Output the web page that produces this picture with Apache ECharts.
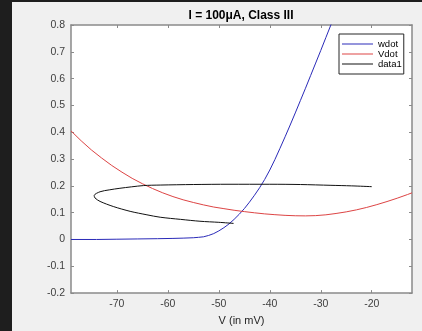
<!DOCTYPE html>
<html>
<head>
<meta charset="utf-8">
<script src="https://cdn.jsdelivr.net/npm/echarts@6/dist/echarts.min.js"></script>
<style>
html,body{margin:0;padding:0;background:#1e1e1e;}
#c{width:422px;height:331px;}
</style>
</head>
<body>
<div id="c"></div>
<script>
// ---- data ----
const titleText = 'I = 100\u03bcA, Class III';
const xName = 'V (in mV)';
const xTicks = [-70, -60, -50, -40, -30, -20];
const yTicks = [-0.2, -0.1, 0, 0.1, 0.2, 0.3, 0.4, 0.5, 0.6, 0.7, 0.8];
const seriesNames = ['wdot', 'Vdot', 'data1'];

const wdotV = [-79, -74, -70, -66, -62, -59, -57, -55, -54, -53, -52, -51, -50, -49, -48, -47, -46, -45, -44, -43, -42, -41, -40, -39, -38, -37, -36, -35, -34, -33, -32, -31, -30, -29, -28, -27];
const wdotY = [0.000, 0.000, 0.001, 0.002, 0.003, 0.004, 0.005, 0.0065, 0.008, 0.010, 0.015, 0.022, 0.032, 0.044, 0.058, 0.075, 0.094, 0.115, 0.139, 0.165, 0.193, 0.224, 0.259, 0.298, 0.340, 0.383, 0.427, 0.472, 0.518, 0.564, 0.611, 0.658, 0.705, 0.753, 0.801, 0.849];

const vdotV = [-79, -77, -75, -73, -71, -69, -67, -65, -63, -61, -59, -57, -55, -53, -51, -49, -47, -45, -43, -41, -39, -37, -35, -33, -31, -29, -27, -25, -23, -21, -19, -17, -15, -13, -12.1];
const vdotY = [0.405, 0.368, 0.334, 0.304, 0.276, 0.251, 0.228, 0.208, 0.190, 0.174, 0.160, 0.148, 0.138, 0.129, 0.121, 0.115, 0.109, 0.104, 0.0995, 0.0955, 0.0925, 0.0900, 0.0885, 0.0880, 0.0890, 0.0920, 0.0970, 0.1030, 0.1105, 0.1195, 0.1300, 0.1415, 0.1540, 0.1675, 0.1740];

const trajV = [-47.1, -50, -53.7, -57.5, -61.5, -64.1, -67.4, -70.7, -73.3, -74.3, -74.45, -73.3, -71.5, -69.4, -64.8, -61.5, -55, -48, -40, -34, -28, -24, -20];
const trajY = [0.060, 0.064, 0.068, 0.075, 0.083, 0.092, 0.105, 0.123, 0.142, 0.155, 0.164, 0.178, 0.185, 0.191, 0.201, 0.203, 0.205, 0.206, 0.206, 0.205, 0.202, 0.200, 0.197];

const zip = (a, b) => a.map((v, i) => [v, b[i]]);

const axisColor = '#8a8a8a';
const font = 'Liberation Sans, Arial, sans-serif';

const chart = echarts.init(document.getElementById('c'));
chart.setOption({
  animation: false,
  backgroundColor: '#f0f0f0',
  graphic: [
    { type: 'rect', shape: { x: 0, y: 0, width: 12, height: 331 }, style: { fill: '#1e1e1e' } },
    { type: 'rect', shape: { x: 0, y: 0, width: 422, height: 2 }, style: { fill: '#1e1e1e' } },
    { type: 'text', x: 241, y: 16, style: { text: titleText, textAlign: 'center', textVerticalAlign: 'middle', font: 'bold 12px ' + font, fill: '#000' } }
  ],
  grid: { left: 71, top: 25, right: 10, bottom: 35, show: true, backgroundColor: '#fff', borderWidth: 0 },
  legend: {
    data: seriesNames, orient: 'vertical', left: 339, top: 34,
    icon: 'rect', itemWidth: 31, itemHeight: 1, itemGap: 0,
    padding: [5, 2, 5, 3],
    backgroundColor: '#fff', borderColor: '#262626', borderWidth: 1, borderRadius: 0,
    textStyle: { fontFamily: font, fontSize: 9.5, color: '#000', lineHeight: 10 }
  },
  xAxis: [
    {
      type: 'value', min: -79, max: -12.1, position: 'bottom',
      name: xName, nameLocation: 'middle', nameGap: 21,
      nameTextStyle: { fontFamily: font, fontSize: 11, color: '#262626' },
      axisLine: { show: true, onZero: false, lineStyle: { color: axisColor, width: 1.5 } },
      axisTick: { show: true, inside: true, length: 3, customValues: xTicks, lineStyle: { color: axisColor } },
      axisLabel: { customValues: xTicks, margin: 6, fontFamily: font, fontSize: 10.5, color: '#404040' },
      splitLine: { show: false }
    },
    {
      type: 'value', min: -79, max: -12.1, position: 'top',
      axisLine: { show: true, onZero: false, lineStyle: { color: axisColor, width: 1.5 } },
      axisTick: { show: true, inside: true, length: 3, customValues: xTicks, lineStyle: { color: axisColor } },
      axisLabel: { show: false },
      splitLine: { show: false }
    }
  ],
  yAxis: [
    {
      type: 'value', min: -0.2, max: 0.8, position: 'left',
      axisLine: { show: true, onZero: false, lineStyle: { color: axisColor, width: 1.5 } },
      axisTick: { show: true, inside: true, length: 3, customValues: yTicks, lineStyle: { color: axisColor } },
      axisLabel: { customValues: yTicks, margin: 6, fontFamily: font, fontSize: 10.5, color: '#404040',
        formatter: v => String(Math.round(v * 10) / 10) },
      splitLine: { show: false }
    },
    {
      type: 'value', min: -0.2, max: 0.8, position: 'right',
      axisLine: { show: true, onZero: false, lineStyle: { color: axisColor, width: 1.5 } },
      axisTick: { show: true, inside: true, length: 3, customValues: yTicks, lineStyle: { color: axisColor } },
      axisLabel: { show: false },
      splitLine: { show: false }
    }
  ],
  series: [
    { name: seriesNames[0], type: 'line', data: zip(wdotV, wdotY), smooth: false, showSymbol: false, clip: true,
      lineStyle: { color: '#2a2ab8', width: 1 }, itemStyle: { color: '#2a2ab8' } },
    { name: seriesNames[1], type: 'line', data: zip(vdotV, vdotY), smooth: false, showSymbol: false, clip: true,
      lineStyle: { color: '#dd4444', width: 1 }, itemStyle: { color: '#dd4444' } },
    { name: seriesNames[2], type: 'line', data: zip(trajV, trajY), smooth: 0.3, showSymbol: false, clip: true,
      lineStyle: { color: '#111', width: 1 }, itemStyle: { color: '#111' } }
  ]
});
</script>
</body>
</html>
